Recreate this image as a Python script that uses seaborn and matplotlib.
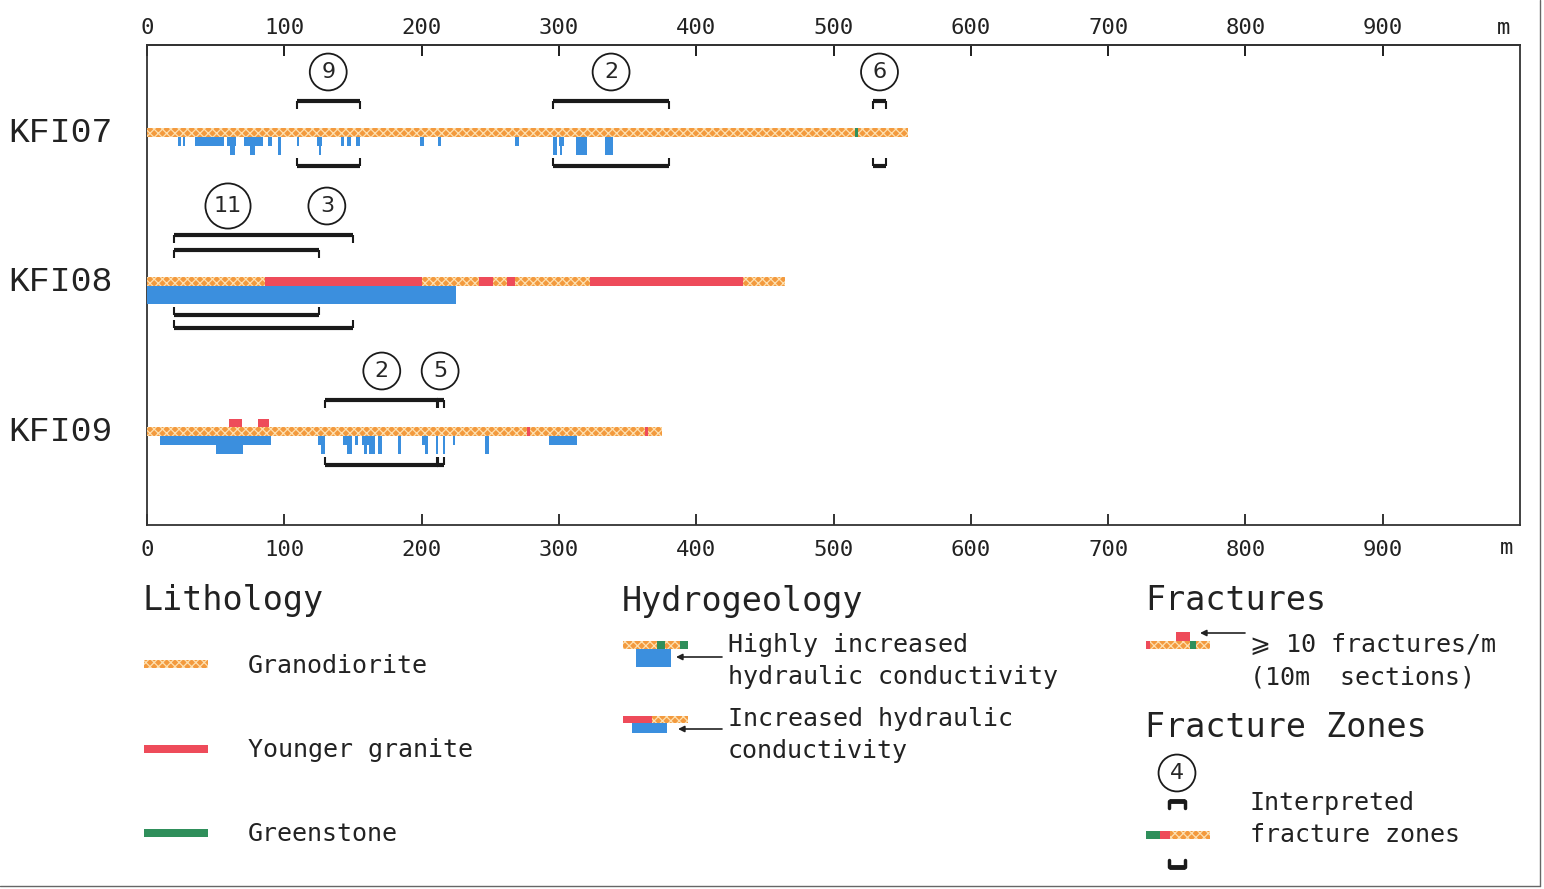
import matplotlib.pyplot as plt
import seaborn as sns
from matplotlib.patches import Rectangle

# ---- data (depths along borehole, m) ----
boreholes = ['KFI07', 'KFI08', 'KFI09']
core_length = [554, 465, 375]

kfi07_granite = []
kfi08_granite = [(86, 200), (242, 252), (262, 268), (323, 434)]
kfi09_granite = [(277, 279), (363, 365)]

kfi07_greenstone = [(516, 518)]
kfi08_greenstone = []
kfi09_greenstone = []

# >= 10 fractures/m (10 m sections)
kfi09_fractures = [(60, 69), (81, 89)]

# hydraulic conductivity: (from, to, level)  1 = increased, 2 = highly increased
kfi07_hydro = [(22.5, 24.5, 1), (26, 28, 1), (35, 56, 1), (58, 65, 1), (60.5, 64, 2),
               (71, 84.5, 1), (75, 79, 2), (88, 91, 1), (95.5, 97.7, 2), (109, 111, 1),
               (123.6, 127.3, 1), (125, 127, 2), (141.4, 143.6, 1), (145.8, 148.5, 1),
               (152.3, 155, 1), (199, 201.5, 1), (211.6, 214, 1), (268, 270.6, 1),
               (295.7, 298.6, 2), (299.8, 304, 1), (300.5, 302.5, 2), (312.7, 320.5, 2),
               (333.8, 339.4, 2)]
kfi08_hydro = [(0, 225, 2)]
kfi09_hydro = [(9.5, 90, 1), (50.3, 69.7, 2), (124.5, 127, 1), (127, 130, 2),
               (143, 149.4, 1), (146, 149.4, 2), (151.6, 153.8, 1), (156.5, 166, 1),
               (158, 160, 2), (162, 166, 2), (168.4, 171, 2), (183, 185, 2),
               (200, 205, 1), (202.5, 205, 2), (210.6, 211.8, 2), (215.5, 216.7, 2),
               (222.8, 224.5, 1), (246.4, 248.8, 2), (293, 313, 1)]

# interpreted fracture zones: (number, from, to, bracket level, label position)
kfi07_zones = [(9, 109, 155, 0, 132), (2, 296, 380, 0, 338), (6, 529, 538, 0, 533.5)]
kfi08_zones = [(11, 20, 125, 0, 59), (3, 20, 150, 1, 131)]
kfi09_zones = [(2, 130, 212, 0, 171), (5, 211, 216, 0, 213.5)]

x_ticks = [0, 100, 200, 300, 400, 500, 600, 700, 800, 900]

granite = [kfi07_granite, kfi08_granite, kfi09_granite]
greenstone = [kfi07_greenstone, kfi08_greenstone, kfi09_greenstone]
fractures = [[], [], kfi09_fractures]
hydro = [kfi07_hydro, kfi08_hydro, kfi09_hydro]
zones = [kfi07_zones, kfi08_zones, kfi09_zones]

# ---- style ----
sns.set_theme(style='white')
plt.rcParams['font.family'] = ['DejaVu Sans Mono', 'DejaVu Sans']

C_GRANO = '#f39a3e'
C_HATCH = '#fde0b0'
C_RED = '#ee4b5a'
C_GREEN = '#2f8f5b'
C_BLUE = '#3b8fde'
INK = '#222222'
plt.rcParams['hatch.linewidth'] = 0.9
HATCH = 'xxxx'

W, H = 1544, 889
fig = plt.figure(figsize=(W / 100, H / 100), dpi=100)

# full-figure axes in pixel units for the key
leg = fig.add_axes([0, 0, 1, 1])
leg.set_xlim(0, W)
leg.set_ylim(H, 0)
leg.axis('off')

ax = fig.add_axes([147 / W, 1 - 525 / H, (1520 - 147) / W, (525 - 45) / H])
ax.set_xlim(0, 1000)
ax.set_ylim(525, 45)   # vertical units = pixels of the layout

row_y = [133, 282, 432]
band = 9
lvl_h = {1: 9, 2: 18}
circ = dict(boxstyle='circle,pad=0.38', fc='white', ec='#1a1a1a', lw=1.3)

for i, name in enumerate(boreholes):
    y = row_y[i]
    ax.barh(y, core_length[i], left=0, height=band, facecolor=C_GRANO,
            edgecolor=C_HATCH, hatch=HATCH, linewidth=0, zorder=3)
    for s, e in granite[i]:
        ax.barh(y, e - s, left=s, height=band, color=C_RED, linewidth=0, zorder=4)
    for s, e in greenstone[i]:
        ax.barh(y, e - s, left=s, height=band, color=C_GREEN, linewidth=0, zorder=4)
    for s, e in fractures[i]:
        ax.barh(y - band / 2 - 4, e - s, left=s, height=8, color=C_RED, linewidth=0, zorder=4)
    for s, e, lv in hydro[i]:
        h = lvl_h[lv]
        ax.barh(y + band / 2 + h / 2, e - s, left=s, height=h, color=C_BLUE,
                linewidth=0, zorder=3)

    top_lvl = max(z[3] for z in zones[i])
    for num, s, e, lv, lab in zones[i]:
        yu = y - 32 - 15 * lv
        yl = y + 33 + 13 * lv
        ax.hlines([yu, yl], s, e, color='#1a1a1a', lw=3, zorder=5)
        ax.vlines([s, e], yu, yu + 8, color='#1a1a1a', lw=1.5, zorder=5)
        ax.vlines([s, e], yl - 8, yl, color='#1a1a1a', lw=1.5, zorder=5)
        cy = y - 32 - 15 * top_lvl - 29
        ax.text(lab, cy, str(num), ha='center', va='center', fontsize=16,
                family='DejaVu Sans', zorder=6, bbox=circ)

    fig.text(8 / W, 1 - (y + 9) / H, name, ha='left', va='baseline',
             fontsize=25, family='Liberation Mono', color=INK)

ax.set_yticks([])
ax.set_xticks(x_ticks)
ax.set_xticklabels([str(t) for t in x_ticks])
ax.tick_params(axis='x', bottom=True, labelbottom=True, top=True, labeltop=False,
               direction='in', length=8, width=1.3, color=INK,
               labelsize=16, labelcolor=INK, pad=11)
top = ax.secondary_xaxis('top')
top.set_xticks(x_ticks)
top.set_xticklabels([str(t) for t in x_ticks])
top.tick_params(axis='x', direction='in', length=8, width=1.3, color=INK,
                labelsize=16, labelcolor=INK, pad=5)
top.spines['top'].set_color('#333333')
top.spines['top'].set_linewidth(1.3)
for sp in ax.spines.values():
    sp.set_color('#333333')
    sp.set_linewidth(1.3)
ax.text(0.988, 1.0 + 7 / 480, 'm', transform=ax.transAxes, ha='center', va='bottom',
        fontsize=16, color=INK)
ax.text(0.99, -13 / 480, 'm', transform=ax.transAxes, ha='center', va='top',
        fontsize=16, color=INK)


# ---- key ----
def txt(x, y, s, size=18):
    leg.text(x, y, s, ha='left', va='baseline', fontsize=size, color=INK)


def rect(x0, x1, y0, y1, c):
    leg.add_patch(Rectangle((x0, y0), x1 - x0, y1 - y0, color=c, lw=0))


def grano_rect(x0, x1, y0, y1):
    leg.add_patch(Rectangle((x0, y0), x1 - x0, y1 - y0, facecolor=C_GRANO,
                            edgecolor=C_HATCH, hatch=HATCH, lw=0))


def arrow(x0, x1, y):
    leg.annotate('', xy=(x1, y), xytext=(x0, y),
                 arrowprops=dict(arrowstyle='-|>', lw=1.2, color=INK,
                                 mutation_scale=9, shrinkA=0, shrinkB=0))


def bracket(x0, x1, y, d):
    leg.plot([x0, x1], [y, y], color='#1a1a1a', lw=3.5, solid_capstyle='butt')
    leg.plot([x0, x0], [y, y + d], color='#1a1a1a', lw=2.5)
    leg.plot([x1, x1], [y, y + d], color='#1a1a1a', lw=2.5)


txt(143, 610, 'Lithology', 24)
grano_rect(144, 208, 660, 668)
txt(248, 673, 'Granodiorite')
rect(144, 208, 745, 753, C_RED)
txt(248, 757, 'Younger granite')
rect(144, 208, 829, 837, C_GREEN)
txt(248, 841, 'Greenstone')

txt(622, 611, 'Hydrogeology', 24)
grano_rect(623, 688, 641, 649)
rect(657, 665, 641, 649, C_GREEN)
rect(680, 688, 641, 649, C_GREEN)
rect(636, 671, 649, 667, C_BLUE)
arrow(722, 676, 657)
txt(728, 652, 'Highly increased')
txt(728, 684, 'hydraulic conductivity')
rect(623, 652, 716, 723, C_RED)
grano_rect(652, 688, 716, 723)
rect(632, 667, 723, 733, C_BLUE)
arrow(722, 678, 729)
txt(728, 726, 'Increased hydraulic')
txt(728, 758, 'conductivity')

txt(1145, 610, 'Fractures', 24)
grano_rect(1146, 1210, 641, 649)
rect(1146, 1150, 641, 649, C_RED)
rect(1190, 1196, 641, 649, C_GREEN)
rect(1176, 1190, 632, 641, C_RED)
arrow(1245, 1200, 633)
txt(1250, 652, '⩾ 10 fractures/m')
txt(1250, 684, '(10m  sections)')

txt(1145, 737, 'Fracture Zones', 24)
leg.text(1177, 773, '4', ha='center', va='center', fontsize=16, family='DejaVu Sans',
         bbox=circ)
bracket(1169, 1185, 801, 7)
rect(1146, 1160, 831, 839, C_GREEN)
rect(1160, 1170, 831, 839, C_RED)
grano_rect(1170, 1210, 831, 839)
bracket(1169, 1185, 867, -7)
txt(1250, 810, 'Interpreted')
txt(1250, 842, 'fracture zones')

# scan frame
leg.plot([1540, 1540], [0, 886], color='#666666', lw=1)
leg.plot([0, 1540], [886, 886], color='#666666', lw=1)

fig.savefig('out.png', dpi=100)
